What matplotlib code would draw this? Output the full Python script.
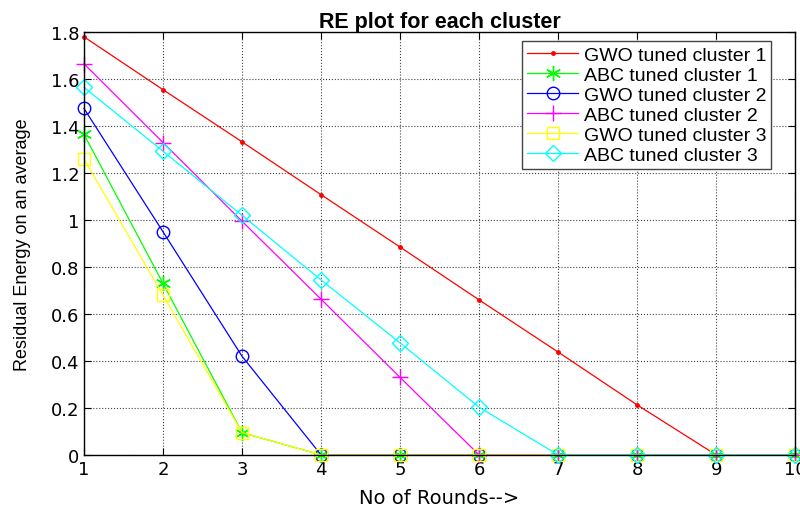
import numpy as np
import matplotlib.pyplot as plt

# Данные: номер раунда и остаточная энергия по кластерам
rounds = [1, 2, 3, 4, 5, 6, 7, 8, 9, 10]
gwo_c1 = [1.78, 1.555, 1.333, 1.108, 0.885, 0.66, 0.438, 0.213, 0, 0]
abc_c1 = [1.365, 0.73, 0.095, 0, 0, 0, 0, 0, 0, 0]
gwo_c2 = [1.475, 0.95, 0.42, 0, 0, 0, 0, 0, 0, 0]
abc_c2 = [1.665, 1.33, 0.995, 0.663, 0.33, 0, 0, 0, 0, 0]
gwo_c3 = [1.26, 0.68, 0.095, 0, 0, 0, 0, 0, 0, 0]
abc_c3 = [1.565, 1.293, 1.02, 0.745, 0.477, 0.203, 0, 0, 0, 0]

labels = ["GWO tuned cluster 1", "ABC tuned cluster 1", "GWO tuned cluster 2",
          "ABC tuned cluster 2", "GWO tuned cluster 3", "ABC tuned cluster 3"]

plt.rcParams['font.family'] = ['Liberation Sans', 'DejaVu Sans']

fig = plt.figure(figsize=(8, 5.1), dpi=100)
ax = fig.add_axes([0.105, 0.106, 0.889, 0.829])

lw = 0.9
kw = dict(lw=lw, clip_on=False, markeredgewidth=1.0)
ax.plot(rounds, gwo_c1, color='#ff0000', marker='.', markersize=5, label=labels[0], **kw)
ax.plot(rounds, abc_c1, color='#00ff00', marker=(6, 2, 0), markersize=11, label=labels[1], **kw)
ax.plot(rounds, gwo_c2, color='#0000ff', marker='o', markersize=9, markerfacecolor='none', label=labels[2], **kw)
ax.plot(rounds, abc_c2, color='#ff00ff', marker='+', markersize=12, label=labels[3], **kw)
ax.plot(rounds, gwo_c3, color='#ffff00', marker='s', markersize=8, markerfacecolor='none', label=labels[4], **kw)
ax.plot(rounds, abc_c3, color='#00ffff', marker='D', markersize=8, markerfacecolor='none', label=labels[5], **kw)

ax.set_xlim(1, 10)
ax.set_ylim(0, 1.8)
ax.set_xticks(range(1, 11))
ax.set_yticks(np.arange(0, 1.81, 0.2))
ax.set_yticklabels(['0', '0.2', '0.4', '0.6', '0.8', '1', '1.2', '1.4', '1.6', '1.8'])
ax.tick_params(direction='in', labelsize=13, top=True, right=True, length=5)
for t in ax.get_xticklabels() + ax.get_yticklabels():
    t.set_family('DejaVu Sans')
ax.grid(True, linestyle=':', color='#444444', linewidth=0.8)
for s in ax.spines.values():
    s.set_linewidth(1.0)

ax.set_title("RE plot for each cluster", fontsize=15.5, fontweight='bold', pad=4)
ax.set_xlabel("No of Rounds-->", fontsize=14, labelpad=7, family='DejaVu Sans')
ax.set_ylabel("Residual Energy on an average", fontsize=13, labelpad=14)

leg = ax.legend(loc='upper right', bbox_to_anchor=(0.966, 0.978), fontsize=14,
                fancybox=False, edgecolor='#444444', framealpha=1,
                handlelength=2.6, borderpad=0.25, labelspacing=0.12, handletextpad=0.3,
                borderaxespad=0)
leg.get_frame().set_linewidth(1.0)

fig.savefig("out.png")
